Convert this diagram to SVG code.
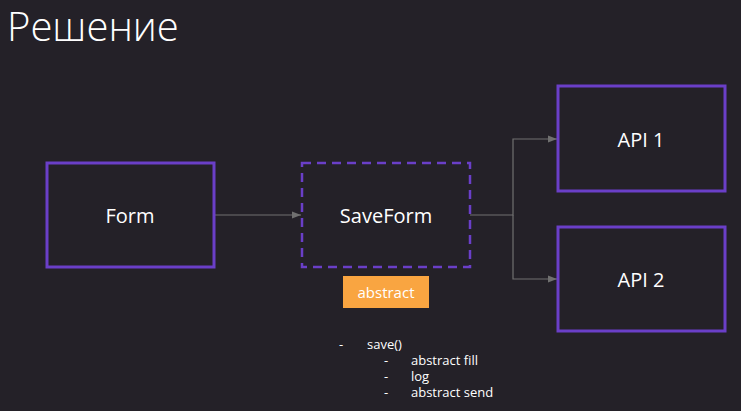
<svg xmlns="http://www.w3.org/2000/svg" width="741" height="411" viewBox="0 0 741 411">
<defs>
<marker id="arr" viewBox="0 0 10 10" refX="10" refY="5" markerWidth="9" markerHeight="9" markerUnits="userSpaceOnUse" orient="auto"><path d="M0,1 L10,5 L0,9 z" fill="#707070"/></marker>
<style>
.box{fill:#242128;stroke:#6a3fc8;stroke-width:3}
.dash{fill:none;stroke:#6a3fc8;stroke-width:2.5;stroke-dasharray:9 6}
.lbl{font-family:"Open Sans","Liberation Sans",sans-serif;font-size:20px;fill:#ffffff;text-anchor:middle;dominant-baseline:central}
.sm{font-family:"Open Sans","Liberation Sans",sans-serif;font-size:13px;fill:#ffffff}
.con{fill:none;stroke:#707070;stroke-width:1.2}
</style>
</defs>
<rect width="741" height="411" fill="#242128"/>
<text x="7" y="41" font-family="'Open Sans','Liberation Sans',sans-serif" font-weight="300" font-size="40" fill="#ffffff">Решение</text>
<g id="connectors">
<path class="con" d="M214,215 H301" marker-end="url(#arr)"/>
<path class="con" d="M470,215 H513 V139 H557" marker-end="url(#arr)"/>
<path class="con" d="M513,215 V279 H557" marker-end="url(#arr)"/>
</g>
<g id="form"><rect class="box" x="47" y="163" width="167" height="104"/><text class="lbl" x="130" y="215">Form</text></g>
<g id="saveform"><rect class="dash" x="302" y="163" width="168" height="104"/><text class="lbl" x="386" y="215">SaveForm</text></g>
<g id="api1"><rect class="box" x="558" y="86" width="167" height="105"/><text class="lbl" x="641" y="139">API 1</text></g>
<g id="api2"><rect class="box" x="558" y="227" width="167" height="104"/><text class="lbl" x="641" y="279">API 2</text></g>
<g id="abstract"><rect x="343" y="276" width="86" height="32" fill="#f9a541"/><text x="386" y="292" font-family="'Open Sans','Liberation Sans',sans-serif" font-size="15" fill="#ffffff" text-anchor="middle" dominant-baseline="central">abstract</text></g>
<g id="list">
<text class="sm" x="339" y="349">-</text><text class="sm" x="367" y="349">save()</text>
<text class="sm" x="384" y="365">-</text><text class="sm" x="411" y="365">abstract fill</text>
<text class="sm" x="384" y="381">-</text><text class="sm" x="411" y="381">log</text>
<text class="sm" x="384" y="397">-</text><text class="sm" x="411" y="397">abstract send</text>
</g>
</svg>
